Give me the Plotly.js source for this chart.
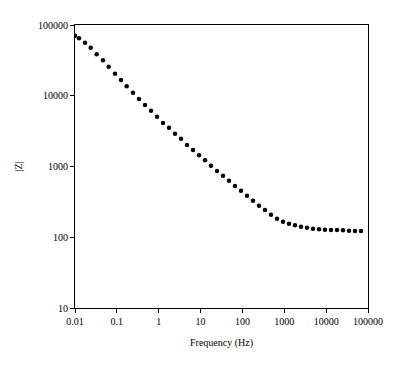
<!DOCTYPE html>
<html>
<head>
<meta charset="utf-8">
<script src="https://cdn.plot.ly/plotly-3.0.1.min.js"></script>
<style>html,body{margin:0;padding:0;background:#fff;}#chart{width:401px;height:368px;}</style>
</head>
<body>
<div id="chart"></div>
<script>
var frequency = [0.01, 0.01247, 0.01734, 0.0237, 0.0330, 0.0467, 0.0638, 0.0903, 0.1256, 0.1718,
  0.243, 0.338, 0.470, 0.654, 0.910, 1.265, 1.76, 2.45, 3.41, 4.74,
  6.59, 9.17, 12.8, 17.7, 24.7, 34.3, 47.8, 66.4, 92.4, 128.5,
  178.7, 249, 346, 481, 670, 931, 1295, 1803, 2506, 3485,
  4850, 6745, 9380, 13060, 18160, 25240, 35160, 48870, 67960];
var impedance = [70600, 64900, 56200, 47800, 38500, 31700, 25700, 20500, 16700, 13600,
  11000, 9000, 7400, 6150, 5060, 4120, 3535, 2910, 2470, 2010,
  1710, 1440, 1224, 1026, 864, 741, 630, 530, 455, 386,
  329, 279, 243, 208, 183, 166, 155.5, 147.6, 141, 136.5,
  132, 129.5, 128, 126.5, 126.5, 125.3, 123.8, 122.5, 122.5];
var xTickVals = [0.01, 0.1, 1, 10, 100, 1000, 10000, 100000];
var xTickText = ["0.01", "0.1", "1", "10", "100", "1000", "10000", "100000"];
var yTickVals = [10, 100, 1000, 10000, 100000];
var yTickText = ["10", "100", "1000", "10000", "100000"];

var trace = {
  x: frequency, y: impedance, type: 'scatter', mode: 'markers',
  marker: {color: '#000', size: 4.5, symbol: 'circle'},
  hoverinfo: 'none'
};
var axisCommon = {
  type: 'log', showgrid: false, zeroline: false,
  showline: true, linecolor: '#000', linewidth: 1, mirror: true,
  ticks: 'outside', ticklen: 4, tickcolor: '#000', tickwidth: 1,
  tickfont: {family: 'Liberation Serif, Times New Roman, serif', size: 10, color: '#000'}
};
var layout = {
  width: 401, height: 368,
  margin: {l: 75, r: 33, t: 25, b: 60},
  paper_bgcolor: '#fff', plot_bgcolor: '#fff',
  showlegend: false,
  font: {family: 'Liberation Serif, Times New Roman, serif', size: 10, color: '#000'},
  xaxis: Object.assign({}, axisCommon, {
    range: [-2, 5], tickmode: 'array', tickvals: xTickVals, ticktext: xTickText,
    title: {text: 'Frequency (Hz)', font: {size: 10}, standoff: 12}
  }),
  yaxis: Object.assign({}, axisCommon, {
    range: [1, 5], tickmode: 'array', tickvals: yTickVals, ticktext: yTickText,
    title: {text: '|Z|', font: {size: 10}, standoff: 13}
  })
};
Plotly.newPlot('chart', [trace], layout, {displayModeBar: false, staticPlot: true});
</script>
</body>
</html>
